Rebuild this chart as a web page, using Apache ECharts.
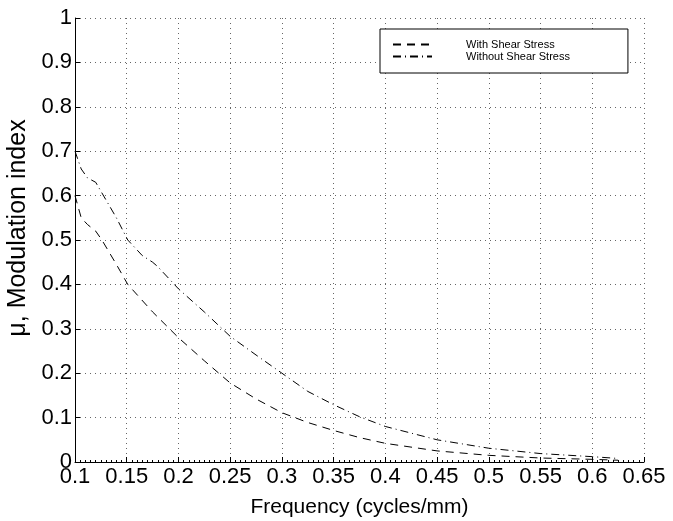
<!DOCTYPE html>
<html>
<head>
<meta charset="utf-8">
<script src="https://cdn.jsdelivr.net/npm/echarts@6/dist/echarts.min.js"></script>
<style>html,body{margin:0;padding:0;background:#fff;}#c{width:673px;height:521px;}</style>
</head>
<body>
<div id="c"></div>
<script>
var freqWith = [0.1, 0.106, 0.112, 0.12, 0.126, 0.14, 0.151, 0.175, 0.2, 0.225, 0.25, 0.275, 0.3, 0.325, 0.35, 0.375, 0.4, 0.45, 0.5, 0.55, 0.6, 0.625];
var muWith   = [0.60, 0.55, 0.535, 0.52, 0.50, 0.445, 0.40, 0.338, 0.28, 0.228, 0.178, 0.142, 0.111, 0.089, 0.071, 0.055, 0.042, 0.025, 0.015, 0.009, 0.006, 0.004];
var freqWithout = [0.1, 0.106, 0.112, 0.12, 0.13, 0.14, 0.151, 0.165, 0.175, 0.18, 0.2, 0.225, 0.25, 0.275, 0.3, 0.325, 0.35, 0.375, 0.4, 0.45, 0.5, 0.55, 0.6, 0.625];
var muWithout   = [0.70, 0.66, 0.64, 0.63, 0.59, 0.55, 0.50, 0.465, 0.45, 0.44, 0.39, 0.338, 0.283, 0.241, 0.20, 0.159, 0.129, 0.102, 0.080, 0.050, 0.031, 0.019, 0.012, 0.008];
var seriesNames = ['With Shear Stress', 'Without Shear Stress'];
var xAxisTitle = 'Frequency (cycles/mm)';
var yAxisTitle = 'μ, Modulation index';

function pairs(xs, ys) { return xs.map(function (x, i) { return [x, ys[i]]; }); }
function fmt(v) { return String(+(+v).toFixed(2)); }

var chart = echarts.init(document.getElementById('c'), null, { renderer: 'canvas' });
var font = 'Liberation Sans, Arial, Helvetica, sans-serif';
var gridLine = { show: true, lineStyle: { color: '#666', width: 1, type: [1, 4] } };
chart.setOption({
  animation: false,
  backgroundColor: '#fff',
  grid: { left: 75, right: 29, top: 18, bottom: 59, containLabel: false, outerBoundsMode: 'none' },
  legend: {
    orient: 'vertical', left: 380, top: 29,
    padding: [10, 58, 11, 12],
    itemWidth: 39, itemHeight: 10, itemGap: 1,
    borderColor: '#000', borderWidth: 1, backgroundColor: '#fff',
    itemStyle: { opacity: 0 },
    textStyle: { fontFamily: font, fontSize: 11, color: '#000', padding: [0, 0, 0, 29] },
    data: seriesNames
  },
  xAxis: {
    type: 'value', min: 0.1, max: 0.65, interval: 0.05,
    name: xAxisTitle, nameLocation: 'middle', nameGap: 35,
    nameTextStyle: { fontFamily: font, fontSize: 21, color: '#000' },
    axisLine: { show: true, onZero: false, lineStyle: { color: '#000', width: 1 } },
    axisTick: { show: true, inside: true, length: 5, lineStyle: { color: '#000' } },
    minorTick: { show: true, splitNumber: 10, length: 2, lineStyle: { color: '#000' } },
    axisLabel: { fontFamily: font, fontSize: 22, color: '#000', margin: 4, formatter: fmt },
    splitLine: gridLine
  },
  yAxis: {
    type: 'value', min: 0, max: 1, interval: 0.1,
    name: yAxisTitle, nameLocation: 'middle', nameGap: 40,
    nameTextStyle: { fontFamily: font, fontSize: 25, color: '#000', padding: [0, 0, 0, 24] },
    axisLine: { show: true, lineStyle: { color: '#000', width: 1 } },
    axisTick: { show: true, inside: true, length: 5, lineStyle: { color: '#000' } },
    axisLabel: { fontFamily: font, fontSize: 22, color: '#000', margin: 3, formatter: fmt },
    splitLine: gridLine
  },
  series: [
    {
      name: seriesNames[0], type: 'line', symbol: 'none', smooth: false,
      data: pairs(freqWith, muWith),
      lineStyle: { color: '#000', width: 1, type: [8, 6] },
      itemStyle: { color: '#000' }
    },
    {
      name: seriesNames[1], type: 'line', symbol: 'none', smooth: false,
      data: pairs(freqWithout, muWithout),
      lineStyle: { color: '#000', width: 1, type: [8, 4, 1, 4] },
      itemStyle: { color: '#000' }
    }
  ]
});
</script>
</body>
</html>
